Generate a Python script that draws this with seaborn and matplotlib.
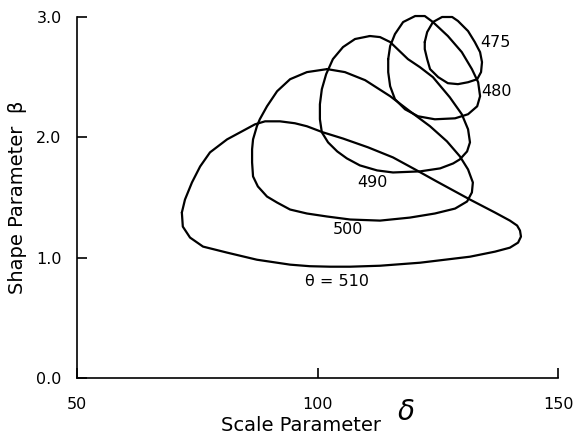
import matplotlib
matplotlib.use("Agg")
import matplotlib.pyplot as plt
import numpy as np
import pandas as pd
import seaborn as sns

# Confidence contours of the (delta, beta) parameters for several theta values
theta_levels = [510, 500, 490, 480, 475]

delta_510 = [71.8, 72.0, 73.5, 76.2, 81.2, 87.4, 94.3, 98.4, 102.6, 106.8, 113.0, 121.3,
             126.5, 131.7, 136.9, 140.0, 141.7, 142.3, 142.1, 141.5, 140.0, 136.9, 131.7,
             124.8, 120.3, 115.7, 110.5, 105.3, 101.1, 97.8, 95.3, 92.2, 89.1, 87.0,
             81.2, 77.65, 75.6, 73.9, 72.45, 71.8]
beta_510 = [1.375, 1.258, 1.167, 1.092, 1.042, 0.983, 0.942, 0.929, 0.925, 0.925, 0.933, 0.958,
            0.983, 1.008, 1.05, 1.083, 1.125, 1.175, 1.225, 1.267, 1.308, 1.375, 1.483,
            1.633, 1.733, 1.833, 1.917, 1.99, 2.042, 2.092, 2.117, 2.133, 2.133, 2.108,
            1.983, 1.875, 1.758, 1.625, 1.483, 1.375]

delta_500 = [102.0, 105.7, 109.9, 115.1, 119.2, 123.4, 126.9, 129.6, 131.3, 132.3, 132.1,
             131.1, 128.6, 124.4, 119.2, 113.0, 106.8, 102.0, 97.8, 94.3, 91.6, 89.5,
             87.6, 86.6, 86.4, 86.4, 86.6, 87.4, 88.0, 89.5, 91.6, 94.3, 97.8, 102.0]
beta_500 = [2.567, 2.542, 2.475, 2.342, 2.217, 2.092, 1.967, 1.842, 1.733, 1.625, 1.542,
            1.467, 1.408, 1.367, 1.333, 1.308, 1.317, 1.342, 1.367, 1.40, 1.458, 1.508,
            1.592, 1.675, 1.792, 1.90, 1.983, 2.092, 2.15, 2.258, 2.383, 2.483, 2.542, 2.567]

delta_490 = [110.9, 113.0, 115.1, 118.8, 121.3, 124.0, 127.5, 130.0, 131.3, 131.7, 131.1,
             129.6, 128.2, 125.5, 121.3, 115.7, 112.4, 108.8, 106.1, 104.1, 102.2, 100.9,
             100.5, 100.5, 100.9, 101.8, 103.2, 105.3, 107.8, 110.9]
beta_490 = [2.842, 2.833, 2.792, 2.65, 2.583, 2.50, 2.333, 2.192, 2.067, 1.958, 1.883,
            1.817, 1.783, 1.742, 1.717, 1.708, 1.725, 1.767, 1.825, 1.883, 1.958, 2.042,
            2.15, 2.275, 2.40, 2.525, 2.65, 2.75, 2.817, 2.842]

delta_480 = [114.7, 115.1, 116.1, 117.8, 120.3, 122.3, 124.0, 127.1, 130.0, 132.1, 133.4,
             133.8, 133.2, 131.3, 128.6, 124.4, 120.9, 118.2, 116.1, 115.1, 114.7, 114.7]
beta_480 = [2.65, 2.758, 2.858, 2.958, 3.008, 3.008, 2.958, 2.842, 2.708, 2.567, 2.458,
            2.342, 2.258, 2.192, 2.158, 2.15, 2.175, 2.233, 2.317, 2.425, 2.542, 2.65]

delta_475 = [122.3, 122.8, 124.0, 125.9, 128.0, 129.2, 131.3, 132.7, 133.8, 134.2, 134.0,
             133.2, 131.3, 129.2, 127.1, 125.1, 123.4, 122.8, 122.3, 122.3]
beta_475 = [2.792, 2.875, 2.958, 3.0, 3.0, 2.967, 2.883, 2.792, 2.708, 2.625, 2.542,
            2.483, 2.458, 2.442, 2.45, 2.50, 2.567, 2.65, 2.733, 2.792]

contour_labels = ["θ = 510", "500", "490", "480", "475"]
label_delta = [104.1, 106.3, 111.5, 137.3, 136.9]
label_beta = [0.80, 1.23, 1.625, 2.38, 2.79]

x_ticks = [50, 100, 150]
y_ticks = [0.0, 1.0, 2.0, 3.0]
y_tick_labels = ["0.0", "1.0", "2.0", "3.0"]

curves = {
    510: (delta_510, beta_510),
    500: (delta_500, beta_500),
    490: (delta_490, beta_490),
    480: (delta_480, beta_480),
    475: (delta_475, beta_475),
}
frames = []
for th in theta_levels:
    d, b = curves[th]
    frames.append(pd.DataFrame({"delta": d, "beta": b, "theta": th}))
df = pd.concat(frames, ignore_index=True)

sns.set_theme(style="ticks")
plt.rcParams["font.family"] = ["DejaVu Sans"]

fig = plt.figure(figsize=(5.78, 4.42), dpi=100)
ax = fig.add_axes([77 / 578, 1 - 378 / 442, 481 / 578, 361 / 442])

sns.lineplot(data=df, x="delta", y="beta", units="theta", estimator=None,
             sort=False, color="black", linewidth=1.6, ax=ax)
for line in ax.lines:
    line.set_clip_on(False)
    line.set_solid_joinstyle("round")

for txt, xd, yd in zip(contour_labels, label_delta, label_beta):
    ax.text(xd, yd, txt, ha="center", va="center", fontsize=11.5, color="black")

ax.set_xlim(50, 150)
ax.set_ylim(0, 3.0)
ax.set_xticks(x_ticks)
ax.set_xticklabels([str(v) for v in x_ticks])
ax.set_yticks(y_ticks)
ax.set_yticklabels(y_tick_labels)
ax.tick_params(axis="both", direction="in", length=7.5, width=1.2,
               labelsize=11.5, colors="black")
ax.tick_params(axis="x", pad=13.5)
ax.tick_params(axis="y", pad=11)

for side in ["top", "right"]:
    ax.spines[side].set_visible(False)
for side in ["left", "bottom"]:
    ax.spines[side].set_linewidth(1.2)
    ax.spines[side].set_color("black")

ax.set_xlabel("Scale Parameter", fontsize=14, color="black")
ax.xaxis.set_label_coords(0.466, -0.106)
ax.text(0.684, -0.095, r"$\delta$", transform=ax.transAxes, fontsize=20,
        ha="center", va="center", color="black")

ax.set_ylabel("Shape Parameter  β", fontsize=14, color="black")
ax.yaxis.set_label_coords(-0.104, 0.5)

fig.savefig("out.png", dpi=100)
